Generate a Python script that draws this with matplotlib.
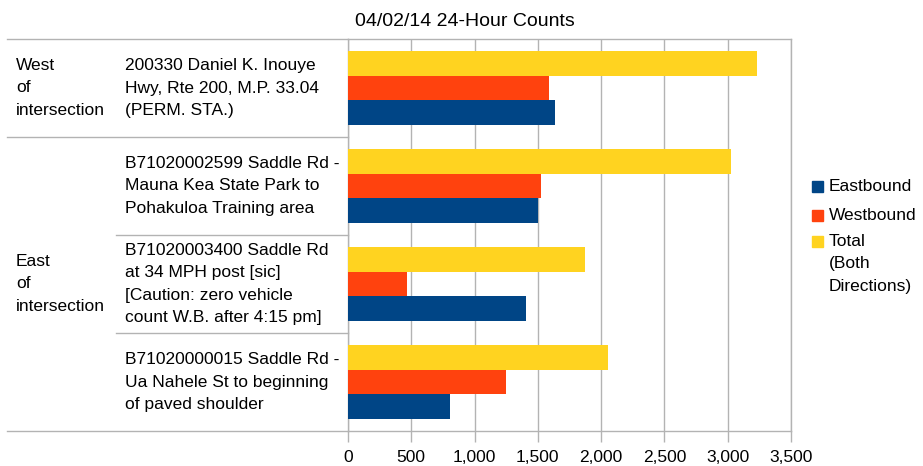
import matplotlib
matplotlib.use("Agg")
import matplotlib.pyplot as plt
from matplotlib.patches import Rectangle
from matplotlib.transforms import blended_transform_factory
import numpy as np

plt.rcParams['font.family'] = ['Liberation Sans', 'DejaVu Sans']

title = "04/02/14 24-Hour Counts"
categories = [
    "200330 Daniel K. Inouye\nHwy, Rte 200, M.P. 33.04\n(PERM. STA.)",
    "B71020002599 Saddle Rd -\nMauna Kea State Park to\nPohakuloa Training area",
    "B71020003400 Saddle Rd\nat 34 MPH post [sic]\n[Caution: zero vehicle\ncount W.B. after 4:15 pm]",
    "B71020000015 Saddle Rd -\nUa Nahele St to beginning\nof paved shoulder",
]
groups = ["West\nof\nintersection", "East\nof\nintersection"]
group_sizes = [1, 3]
series_names = ["Eastbound", "Westbound", "Total\n(Both\nDirections)"]
eastbound = [1635, 1500, 1409, 807]
westbound = [1591, 1525, 470, 1245]
total = [3229, 3023, 1875, 2055]
colors = ["#004586", "#ff420e", "#ffd320"]
xticks = [0, 500, 1000, 1500, 2000, 2500, 3000, 3500]
xticklabels = ["0", "500", "1,000", "1,500", "2,000", "2,500", "3,000", "3,500"]

W, H = 923, 466
fig = plt.figure(figsize=(W / 100, H / 100), dpi=100)
L, R, T, B = 348, 791, 39, 431
ax = fig.add_axes([L / W, 1 - B / H, (R - L) / W, (B - T) / H])

y = np.arange(len(categories))
h = 0.25
ax.barh(y - h, total, height=h, color=colors[2], edgecolor='none', zorder=3)
ax.barh(y, westbound, height=h, color=colors[1], edgecolor='none', zorder=3)
ax.barh(y + h, eastbound, height=h, color=colors[0], edgecolor='none', zorder=3)

ax.set_xlim(0, 3500)
ax.set_ylim(len(categories) - 0.5, -0.5)
ax.set_xticks(xticks)
ax.set_xticklabels(xticklabels, fontsize=12.5, color='#000000')
ax.set_yticks([])
ax.grid(axis='x', color='#b3b3b3', linewidth=1, zorder=0)
ax.tick_params(axis='x', length=8, color='#b3b3b3', width=1, pad=6)
for s in ax.spines.values():
    s.set_color('#b3b3b3')
    s.set_linewidth(1)

fig.text(465 / W, 1 - 21 / H, title, ha='center', va='center', fontsize=14)

LS = 1.62
# hierarchical label table on the left
tr = blended_transform_factory(ax.transAxes, ax.transData)
x_far = (7 - L) / (R - L)
x_mid = (116 - L) / (R - L)
bounds = np.cumsum([0] + group_sizes) - 0.5
for b in bounds:
    ax.plot([x_far, 0], [b, b], transform=tr, color='#b3b3b3', lw=1, clip_on=False)
for i in range(len(categories) - 1):
    b = i + 0.5
    if b in bounds:
        continue
    ax.plot([x_mid, 0], [b, b], transform=tr, color='#b3b3b3', lw=1, clip_on=False)

x_grp = (16 - L) / (R - L)
x_cat = (125 - L) / (R - L)
for gi, g in enumerate(groups):
    c = (bounds[gi] + bounds[gi + 1]) / 2
    ax.text(x_grp, c, g, transform=tr, ha='left', va='center', fontsize=12.5,
            linespacing=LS)
for i, c in enumerate(categories):
    ax.text(x_cat, i, c, transform=tr, ha='left', va='center', fontsize=12.5,
            linespacing=LS)

# legend
sq = 11
legend_y = [186.7, 215, 241.7]
for col, name, yy in zip(colors, series_names, legend_y):
    fig.add_artist(Rectangle((812 / W, 1 - (yy + sq / 2) / H), sq / W, sq / H,
                             transform=fig.transFigure, color=col))
    if '\n' in name:
        fig.text(829 / W, 1 - (yy - 8) / H, name, ha='left', va='top',
                 fontsize=12.5, linespacing=LS)
    else:
        fig.text(829 / W, 1 - yy / H, name, ha='left', va='center', fontsize=12.5)

fig.savefig("out.png", dpi=100)
